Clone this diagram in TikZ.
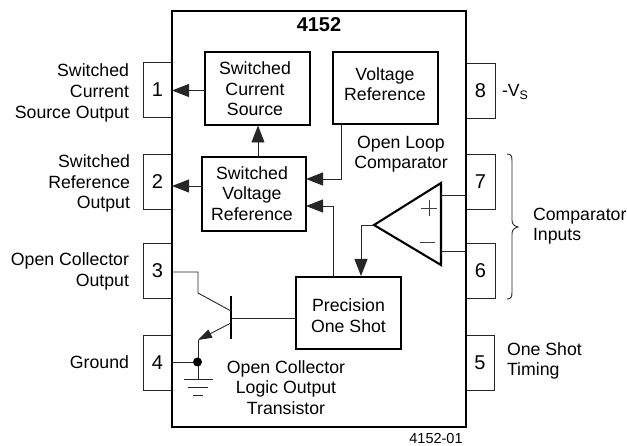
\documentclass[tikz,border=0pt]{standalone}
\usepackage{fontspec}
\setmainfont{Liberation Sans}
\usetikzlibrary{arrows.meta}
\tikzset{
  x=1pt,y=-1pt,
  every node/.style={inner sep=0pt,outer sep=0pt,font=\fontsize{17.7}{20.6}\selectfont},
  pinbox/.style={draw=black!85,line width=0.9pt,minimum width=29pt,minimum height=55pt,font=\fontsize{20}{22}\selectfont},
  block/.style={draw=black,line width=2.1pt},
  wire/.style={draw=black!85,line width=0.9pt},
  arrowwire/.style={wire,-{Triangle[length=17pt,width=13pt]}},
  lbl/.style={align=center},
  lblr/.style={align=right,anchor=east},
  lbll/.style={align=left,anchor=west},
}
\begin{document}
\begin{tikzpicture}
\useasboundingbox (0,0) rectangle (627,446);
% pins
\node[pinbox] (p1) at (157.5,90) {1};
\node[pinbox] (p2) at (157.5,181.5) {2};
\node[pinbox] (p3) at (157.5,270.5) {3};
\node[pinbox] (p4) at (157.5,362.5) {4};
\node[pinbox] (p8) at (480.5,90.5) {8};
\node[pinbox] (p7) at (480.5,181.5) {7};
\node[pinbox] (p6) at (480.5,271) {6};
\node[pinbox] (p5) at (480,362.5) {5};
% chip
\node[draw=black,line width=2.1pt,fill=none,minimum width=294pt,minimum height=416pt] (chip) at (319,219) {};
\node[font=\fontsize{20}{22}\selectfont\bfseries] (title) at (319,25) {4152};
% blocks
\node[block,minimum width=105pt,minimum height=73pt] (scs) at (257.5,88.5) {};
\node[block,minimum width=105pt,minimum height=72pt] (vr) at (385.5,88) {};
\node[block,minimum width=104pt,minimum height=74pt] (svr) at (254,194) {};
\node[block,minimum width=105pt,minimum height=72pt] (pos) at (348.5,313) {};
\node[lbl] (scst) at (255,89) {Switched\\Current\\Source};
\node[lbl] (vrt) at (385,84) {Voltage\\Reference};
\node[lbl] (svrt) at (252,193.5) {Switched\\Voltage\\Reference};
\node[lbl] (post) at (348.5,315.5) {Precision\\One Shot};
% comparator
\coordinate (capex) at (374,225);
\coordinate (ctop) at (441,183);
\coordinate (cbot) at (441,265);
\draw[line width=2.1pt,line join=miter] (capex) -- (ctop) -- (cbot) -- cycle;
\draw[line width=0.8pt,black!75] (421,208) -- (437,208) (429,200) -- (429,216);
\draw[line width=0.8pt,black!75] (420,242) -- (435,242);
\coordinate (c7) at (441,195);
\coordinate (c6) at (441,251);
\draw[wire] (c7) -- (c7 -| p7.west);
\draw[wire] (c6) -- (c6 -| p6.west);
% connectors
\draw[arrowwire] (scs.west |- 0,90.5) -- (p1.east |- 0,90.5);
\draw[arrowwire] (svr.west |- 0,186) -- (p2.east |- 0,186);
\draw[arrowwire] (258,157) -- (258,125.5);
\coordinate (vrout) at (341,124);
\draw[arrowwire] (vrout) |- (svr.east |- 0,179);
\coordinate (posout) at (333,277);
\draw[arrowwire] (posout) |- (svr.east |- 0,206);
\coordinate (cin) at (361,276);
\draw[arrowwire] (capex) -- (361,225) -- (cin);
% transistor
\coordinate (bartop) at (231,296);
\coordinate (barbot) at (231,339);
\coordinate (base) at (231,318);
\coordinate (coll) at (231,311);
\coordinate (emit) at (231,323);
\coordinate (ecorner) at (198,340);
\coordinate (gnd) at (198,379);
\draw[line width=2.6pt] (bartop) -- (barbot);
\draw[wire] (base) -- (pos.west |- base);
\draw[wire] (p3.east |- 0,272) -- (198,272) -- (198,293) -- (coll);
\draw[wire,-{Triangle[length=14pt,width=9pt]}] (emit) -- (ecorner);
\draw[wire] (ecorner) -- (gnd);
\node[circle,fill=black,minimum size=9pt] (dot) at (197.5,362) {};
\draw[wire] (p4.east |- dot) -- (dot);
\draw[wire] (184,379) -- (213,379) (188,387) -- (208,387) (193,395) -- (203,395);
% labels
\node[lblr] (l1) at (129,93) {Switched\\Current\\Source Output};
\node[lblr] (l2) at (130,183.5) {Switched\\Reference\\Output};
\node[lblr] (l3) at (129,271.5) {Open Collector\\Output};
\node[lblr] (l4) at (129,362) {Ground};
\node[lbll] (l8) at (502,92) {-V$_{\mathrm{S}}$};
\node[lbl] (lc) at (401,154) {Open Loop\\Comparator};
\node[lbl] (lt) at (286,387.5) {Open Collector\\Logic Output\\Transistor};
\node[lbll] (li) at (533,226) {Comparator\\Inputs};
\node[lbll] (l5) at (507,361) {One Shot\\Timing};
\node[font=\fontsize{14.5}{16}\selectfont] (fig) at (436,438.5) {4152-01};
% brace
\draw[line width=0.9pt,black!85] (507,154) .. controls (511,154) and (512,156) .. (512,161) -- (512,220)
  .. controls (512,224) and (514,226) .. (518,227) .. controls (514,228) and (512,230) .. (512,234)
  -- (512,292) .. controls (512,297) and (511,299) .. (507,299);
\end{tikzpicture}
\end{document}
